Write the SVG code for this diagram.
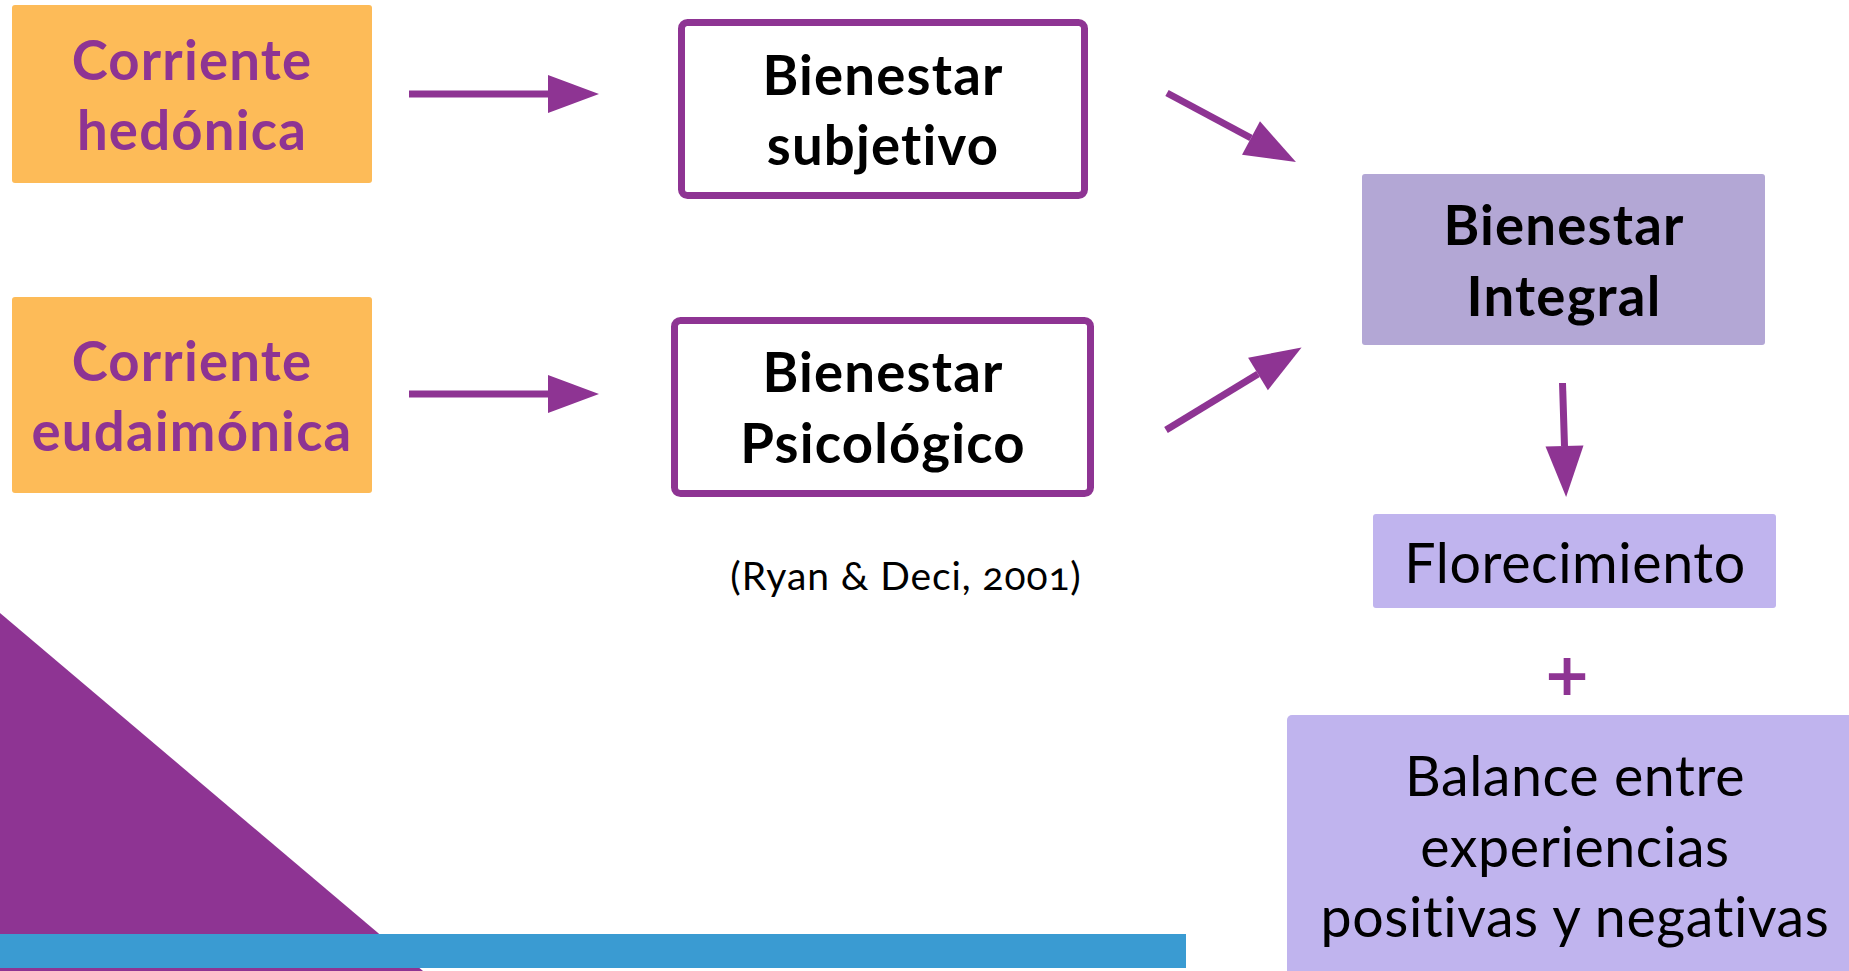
<svg xmlns="http://www.w3.org/2000/svg" width="1849" height="971" viewBox="0 0 1849 971">
<style>
text{font-variant-ligatures:none;font-feature-settings:'liga' 0,'clig' 0}
.bold{font-family:Lato,"Open Sans","Liberation Sans",sans-serif;font-weight:700;font-size:54.5px;letter-spacing:1.2px;text-anchor:middle}
.reg{font-family:Lato,"Open Sans","Liberation Sans",sans-serif;font-weight:400;font-size:55.5px;letter-spacing:0.6px;text-anchor:middle;fill:#000}
.purple{fill:#8E3493}
.black{fill:#000}
.orange{fill:#FDBB58}
.outline{fill:#fff;stroke:#8E3493;stroke-width:7}
.conn{stroke:#8E3493;stroke-width:7;fill:none;marker-end:url(#head)}
</style>
<defs>
<marker id="head" markerUnits="userSpaceOnUse" markerWidth="52" markerHeight="38" refX="0" refY="19" orient="auto" overflow="visible">
<path d="M0,0 L51,19 L0,38 Z" fill="#8E3493"/>
</marker>
</defs>
<rect width="1849" height="971" fill="#fff"/>
<g id="decor">
<polygon points="0,613 423,971 0,971" fill="#8E3493"/>
<rect x="0" y="934" width="1186" height="34" fill="#3A9BD2"/>
</g>
<g id="node-hedonica">
<rect class="orange" x="12" y="5" width="360" height="178" rx="3"/>
<text class="bold purple" x="192" y="80">Corriente</text>
<text class="bold purple" x="192" y="150">hedónica</text>
</g>
<g id="node-eudaimonica">
<rect class="orange" x="12" y="297" width="360" height="196" rx="3"/>
<text class="bold purple" x="192" y="381">Corriente</text>
<text class="bold purple" x="192" y="451">eudaimónica</text>
</g>
<g id="node-subjetivo">
<rect class="outline" x="681.5" y="22.5" width="403" height="173" rx="6"/>
<text class="bold black" x="883" y="95">Bienestar</text>
<text class="bold black" x="883" y="165">subjetivo</text>
</g>
<g id="node-psicologico">
<rect class="outline" x="674.5" y="320.5" width="416" height="173" rx="6"/>
<text class="bold black" x="883" y="392">Bienestar</text>
<text class="bold black" x="883" y="463">Psicológico</text>
</g>
<g id="citation">
<text x="906" y="590" font-family="Lato,'Open Sans',sans-serif" font-size="39" letter-spacing="0.9" text-anchor="middle" style="font-feature-settings:'onum'">(Ryan &amp; Deci, 2001)</text>
</g>
<g id="node-integral">
<rect x="1362" y="174" width="403" height="171" rx="3" fill="#B3A7D5"/>
<text class="bold black" x="1564" y="245">Bienestar</text>
<text class="bold black" x="1564" y="316">Integral</text>
</g>
<g id="node-florecimiento">
<rect x="1373" y="514" width="403" height="94" rx="3" fill="#C0B4EE"/>
<text class="reg" x="1575" y="583">Florecimiento</text>
</g>
<g id="plus">
<text x="1567" y="695" font-family="'DejaVu Sans',sans-serif" font-weight="700" font-size="58" text-anchor="middle" class="purple">+</text>
</g>
<g id="node-balance">
<rect x="1287" y="715" width="600" height="290" rx="5" fill="#C0B4EE"/>
<text class="reg" x="1575" y="796">Balance entre</text>
<text class="reg" x="1575" y="867">experiencias</text>
<text class="reg" x="1575" y="937">positivas y negativas</text>
</g>
<g id="connectors">
<line class="conn" x1="409" y1="94" x2="548" y2="94"/>
<line class="conn" x1="409" y1="394" x2="548" y2="394"/>
<line class="conn" x1="1167" y1="93" x2="1251" y2="138"/>
<line class="conn" x1="1166" y1="430" x2="1258" y2="374"/>
<line class="conn" x1="1562.5" y1="383" x2="1564.5" y2="446"/>
</g>
</svg>
